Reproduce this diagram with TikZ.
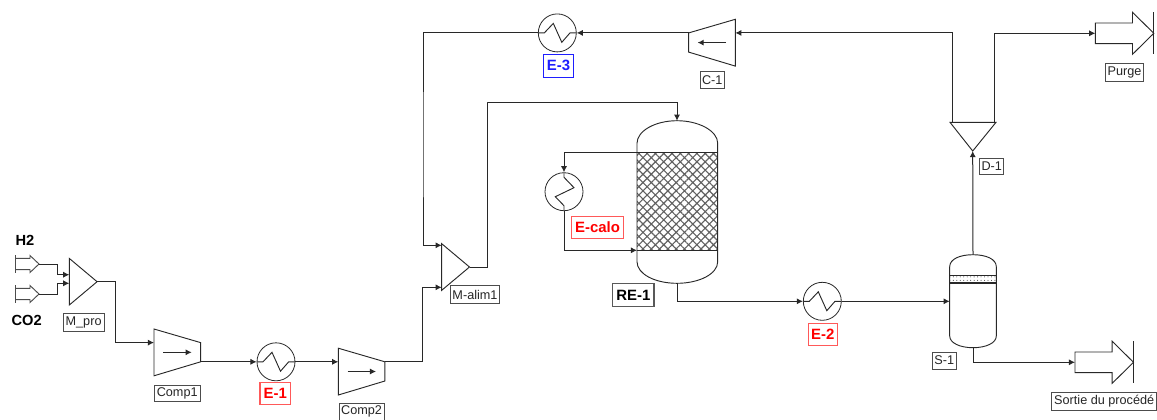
\documentclass[tikz,border=0pt]{standalone}
\usepackage{fontspec}
\setmainfont{Liberation Sans}
\usetikzlibrary{arrows.meta,calc,patterns.meta}
\definecolor{pipe}{RGB}{40,40,40}
\definecolor{tagred}{RGB}{255,0,0}
\definecolor{tagblue}{RGB}{30,30,255}
\tikzset{
  x=0.75pt, y=-0.75pt,
  unit/.style={draw=pipe, line width=0.7pt, line join=miter},
  line/.style={pipe, line width=0.75pt, -{Latex[length=4.6pt,width=4.6pt]}},
  plain/.style={pipe, line width=0.8pt},
  hx/.style={draw=pipe, line width=0.6pt, circle, minimum size=28.5pt, inner sep=0pt},
  tag/.style={draw=black!70, fill=white, line width=0.6pt, inner sep=0pt, font=\fontsize{9.5}{11}\selectfont, text=black!85},
  bigtag/.style={tag, font=\fontsize{11.2}{13}\selectfont\bfseries, line width=0.8pt},
  redtag/.style={bigtag, draw=tagred!65, text=tagred},
  bluetag/.style={bigtag, draw=tagblue, text=tagblue},
  stream/.style={font=\fontsize{11}{13}\selectfont\bfseries},
  zigh/.pic={\draw[unit] (-19,0) -- (-13,0) -- (-4,-9.5) -- (4.5,9.4) -- (12.7,0) -- (19,0);},
  zigv/.pic={\draw[unit] (0,-18.5) -- (0,-14.4) -- (10,-4) -- (-8.7,5) -- (0,14) -- (0,18.5);},
  compr/.pic={
    \draw[unit] (0,0) -- (46.6,13.6) -- (46.6,32.8) -- (0,46.8) -- cycle;
    \draw[line] (9.3,23.3) -- (37.7,23.3);
    \coordinate (-in) at (0,13.6);
    \coordinate (-top) at (46.6,13.6);
    \coordinate (-bot) at (46.6,32.8);
  },
  mixer/.pic={
    \draw[unit] (0,-23.3) -- (27.8,0) -- (0,23.3) -- cycle;
    \coordinate (-out) at (27.8,0);
  },
  feed/.pic={
    \draw[unit, draw=black!70] (0,-5.7) -- (15,-5.7) -- (15,-8.5) -- (24,0) -- (15,8.5) -- (15,5.7) -- (0,5.7);
    \draw[unit, draw=black!70] (0,-9) -- (0,9);
    \coordinate (-tip) at (24,0);
  },
  outlet/.pic={
    \draw[unit] (0,-10.3) -- (37.2,-10.3) -- (37.2,-21) -- (58.5,0) -- (37.2,21) -- (37.2,10.3) -- (0,10.3) -- cycle;
    \draw[unit] (58.5,-21) -- (58.5,21);
    \coordinate (-in) at (0,0);
  }
}
\begin{document}
\begin{tikzpicture}
  \useasboundingbox (0,0) rectangle (1157,419);
  % feeds and first mixer
  \pic (feedh) at (15,264) {feed};
  \pic (feedc) at (15,294) {feed};
  \pic (mpro) at (69.3,281.7) {mixer};
  \coordinate (mproa) at (69.3,274.7);
  \coordinate (mprob) at (69.3,283.3);
  \node[stream] (h2) at (25,240.7) {H2};
  \node[stream] (co2) at (26.7,320) {CO2};
  \node[tag, minimum width=30.5pt, minimum height=13.5pt] (mprotag) at (83.6,322.3) {M\_pro};
  % compression train
  \pic (comp1) at (154,329) {compr};
  \pic (comp2) at (338.3,348.2) {compr};
  \node[hx] (e1) at (276,361.8) {};
  \pic at (e1) {zigh};
  \node[tag, minimum width=34.2pt, minimum height=12pt] (comp1tag) at (177.2,393.7) {Comp1};
  \node[tag, minimum width=33.5pt, minimum height=12.6pt] (comp2tag) at (361.6,411.6) {Comp2};
  \node[redtag, minimum width=23pt, minimum height=16.7pt] (e1tag) at (275.3,393.8) {E-1};
  % second mixer
  \pic (malim) at (441.7,267) {mixer};
  \coordinate (malima) at (441.7,245.3);
  \coordinate (malimb) at (441.7,287.3);
  \node[tag, minimum width=36.5pt, minimum height=13.2pt] (malimtag) at (475,294.5) {M-alim1};
  % reactor
  \coordinate (retop) at (677,120.7);
  \coordinate (rebot) at (677,283.3);
  \coordinate (rebedt) at (637,152.3);
  \coordinate (rebedb) at (637,250.3);
  \fill[pattern={Hatch[angle=45,distance=4.4pt,line width=0.85pt]}, pattern color=black!62] (rebedt) rectangle (717.7,250.3);
  \draw[unit] (rebedb) -- (637,261.7) .. controls (637,274) and (655,283.3) .. (rebot) .. controls (699,283.3) and (717.7,274) .. (717.7,261.7) -- (717.7,143.3) .. controls (717.7,131) and (699,120.7) .. (retop) .. controls (655,120.7) and (637,131) .. (637,143.3) -- cycle;
  \draw[plain] (rebedt) -- (717.7,152.3);
  \draw[plain] (rebedb) -- (717.7,250.3);
  \node[hx] (ecalo) at (564,191.7) {};
  \pic at (ecalo) {zigv};
  \node[redtag, minimum width=39.3pt, minimum height=16.5pt] (ecalotag) at (597.5,227.3) {E-calo};
  \node[bigtag, draw=black!65, text=black, minimum width=31pt, minimum height=17.2pt] (retag) at (633.3,295.2) {RE-1};
  % separator
  \coordinate (stop) at (973,254.7);
  \coordinate (sbot) at (973,347.7);
  \coordinate (sleft) at (949.7,301.3);
  \fill[pattern={Dots[distance=2.6pt,radius=0.4pt]}, pattern color=black!75] (949.7,275.3) rectangle (996.3,283);
  \draw[unit] (sleft) -- (949.7,336) .. controls (949.7,343) and (960,347.7) .. (sbot) .. controls (986,347.7) and (996.3,343) .. (996.3,336) -- (996.3,266.7) .. controls (996.3,259) and (986,254.7) .. (stop) .. controls (960,254.7) and (949.7,259) .. (949.7,266.7) -- cycle;
  \draw[plain] (949.7,275.3) -- (996.3,275.3);
  \draw[plain] (949.7,283) -- (996.3,283);
  \node[hx] (e2) at (822.3,301.3) {};
  \pic at (e2) {zigh};
  \node[redtag, minimum width=21.8pt, minimum height=16pt] (e2tag) at (822.8,334.4) {E-2};
  \node[tag, minimum width=17.8pt, minimum height=12.8pt] (s1tag) at (944.2,360.5) {S-1};
  % outlets
  \pic (sortie) at (1075,362.3) {outlet};
  \pic (purge) at (1095.3,33.3) {outlet};
  \node[tag, minimum width=78.7pt, minimum height=13.2pt] (sortietag) at (1104.2,401.2) {Sortie du procédé};
  \node[tag, minimum width=28.2pt, minimum height=13.2pt] (purgetag) at (1124.5,72.2) {Purge};
  % splitter and recycle
  \coordinate (dtip) at (972.7,151);
  \coordinate (dleft) at (952.3,122.3);
  \coordinate (dright) at (994.3,122.3);
  \draw[unit] (950,122.3) -- (996,122.3) -- (dtip) -- cycle;
  \node[tag, minimum width=18pt, minimum height=11.7pt] (d1tag) at (991.7,166.2) {D-1};
  \pic[xscale=-1] (c1) at (735.3,19.3) {compr};
  \node[tag, minimum width=18.2pt, minimum height=12.4pt] (c1tag) at (712.2,80) {C-1};
  \node[hx] (e3) at (557.3,32.9) {};
  \pic at (e3) {zigh};
  \node[bluetag, minimum width=22.2pt, minimum height=17.2pt] (e3tag) at (558.5,65.8) {E-3};
  % streams
  \draw[line] (feedh-tip) -- ++(18.3,0) |- (mproa);
  \draw[line] (feedc-tip) -- ++(18.3,0) |- (mprob);
  \draw[line] (mpro-out) -- ++(18.4,0) |- (comp1-in);
  \draw[line] (comp1-bot) -- (e1.west);
  \draw[line] (e1.east) -- (comp2-in);
  \draw[line] (comp2-top) -- ++(38,0) |- (malimb);
  \draw[line] (malim-out) -- ++(18.3,0) |- (487.3,102.3) -| (retop);
  \draw[line] (rebedt) -| (ecalo.north);
  \draw[line] (ecalo.south) |- (rebedb);
  \draw[line] (rebot) |- (e2.west);
  \draw[line] (e2.east) -- (sleft);
  \draw[line] (sbot) |- (sortie-in);
  \draw[line] (stop) -- (dtip);
  \draw[line] (dright) |- (purge-in);
  \draw[line] (dleft) |- (c1-in);
  \draw[line] (c1-top) -- (e3.east);
  \draw[line] (e3.west) -| (423,150) |- (malima);
\end{tikzpicture}
\end{document}
